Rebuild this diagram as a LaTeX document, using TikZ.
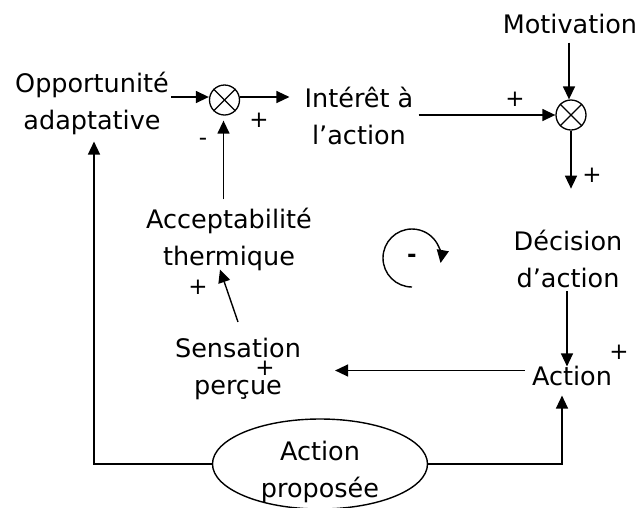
\documentclass[tikz,border=0pt]{standalone}
\usepackage{fontspec}
\setmainfont{DejaVu Sans}
\usetikzlibrary{arrows.meta,shapes.geometric,calc}
\begin{document}
\begin{tikzpicture}[x=1pt,y=1pt,
  lbl/.style={align=center,inner sep=0pt,font=\fontsize{25.5}{37}\selectfont},
  sgn/.style={inner sep=0pt,font=\fontsize{23}{26}\selectfont},
  sumnode/.style={draw,circle,minimum size=30pt,inner sep=0pt,line width=1.3pt},
  link/.style={line width=1.4pt,-{Triangle[length=13pt,width=12pt]}},
  wire/.style={line width=1.4pt}]
\useasboundingbox (0,0) rectangle (641,-507);

% text blocks
\node[lbl] (opp) at (92,-103) {Opportunité\\adaptative};
\node[lbl] (int) at (359,-116) {Intérêt à\\l’action};
\node[lbl,anchor=base] (mot) at (570,-33) {Motivation};
\node[lbl] (dec) at (568,-259) {Décision\\d’action};
\node[lbl] (acc) at (229,-239) {Acceptabilité\\thermique};
\node[lbl] (sen) at (238,-369) {Sensation\\perçue};
\node[lbl,anchor=base] (act) at (572,-385) {Action};
\node[draw,ellipse,line width=1.4pt,minimum width=215pt,minimum height=90pt] (prop) at (320,-464) {};
\node[lbl] (proptxt) at (320,-472) {Action\\proposée};

% comparators
\node[sumnode] (s1) at (224.5,-100) {};
\node[sumnode] (s2) at (571,-115) {};
\foreach \s in {s1,s2}{
  \draw[line width=1.3pt] (\s.north west) -- (\s.south east);
  \draw[line width=1.3pt] (\s.north east) -- (\s.south west);
}

% signs
\node[sgn] (p1) at (259,-120) {+};
\node[sgn] (m1) at (203,-142) {-};
\node[sgn] (p2) at (515,-99) {+};
\node[sgn] (p3) at (592,-175) {+};
\node[sgn] (p4) at (619,-352) {+};
\node[sgn] (p5) at (198,-287) {+};
\node[sgn] (p6) at (265,-368) {+};

% connectors
\draw[link] ($(opp.east |- s1.west)+(2,3)$) -- ($(s1.west)+(0,3)$);
\draw[link] ($(s1.east)+(0,3)$) -- ($(int.west |- s1.east)+(-15,3)$);
\draw[link] ($(acc.north -| s1)+(-1,8)$) -- ($(s1.south)+(-1,-5)$);
\draw[link] ($(int.east |- s2.west)+(5,0)$) -- (s2.west);
\draw[link] ($(mot.south -| s2)+(-2,-9)$) -- ($(s2.north)+(-2,0)$);
\draw[link] (s2.south) -- ($(s2.south)+(0,-58)$);
\draw[link] ($(dec.south)+(-1,-3)$) -- ($(act.north)+(-5,-1)$);
\draw[link] ($(act.west)+(-7,5)$) -- ($(sen.east |- act.west)+(34,5)$);
\draw[link] ($(sen.north)+(0,16)$) -- ($(acc.south)+(-9,1)$);
\draw[link] (prop.west) -| ($(opp.south)+(2,-7)$);
\draw[link] (prop.east) -| ($(act.south)+(-10,-10)$);

% loop sign
\coordinate (lc) at (412,-258);
\draw[link] ([shift={(-90:29pt)}]lc) arc[start angle=-90,end angle=-370,radius=29pt];
\node[inner sep=0pt,font=\fontsize{23}{26}\selectfont\bfseries] (ls) at (lc) {-};
\end{tikzpicture}
\end{document}
